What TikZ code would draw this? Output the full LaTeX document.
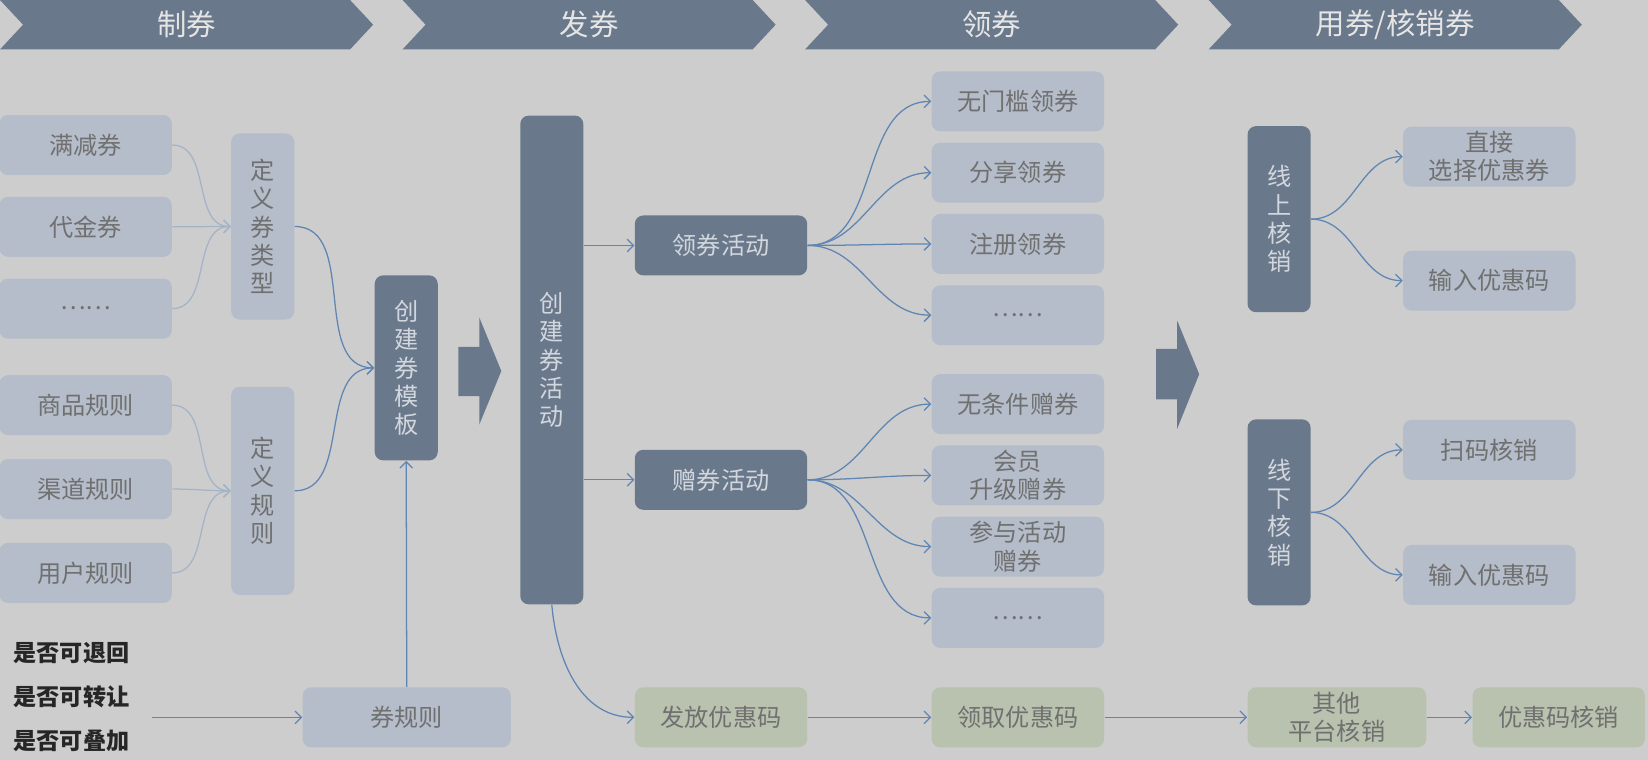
\documentclass[tikz,border=0pt]{standalone}
\usepackage{fontspec}
\setmainfont{Noto Sans CJK SC}
\usetikzlibrary{arrows.meta,positioning,shapes.symbols}

\definecolor{bgGrey}{HTML}{CDCDCD}
\definecolor{slate}{HTML}{6A788B}
\definecolor{paleBox}{HTML}{B4BDC9}
\definecolor{sage}{HTML}{B8C2AE}
\definecolor{flowBlue}{HTML}{5F86B3}
\definecolor{softBlue}{HTML}{A3B4C8}
\definecolor{paleText}{HTML}{D2D7DE}
\definecolor{greyText}{HTML}{707070}

\begin{document}
\begin{tikzpicture}[
    x=0.5pt, y=-0.5pt,
    every node/.style={font=\fontsize{11.5}{13.5}\selectfont},
    stage/.style={signal, signal to=east, signal from=west, signal pointer angle=94, fill=slate, text=white!90!black, minimum width=177.5pt, minimum height=23.5pt, inner sep=0pt, font=\fontsize{14}{16}\selectfont},
    item/.style={rounded corners=4pt, fill=paleBox, text=greyText, align=center, minimum width=82pt, minimum height=28.5pt, inner sep=0pt},
    code/.style={item, fill=sage},
    dark/.style={item, fill=slate, text=paleText},
    tall/.style={item, minimum width=30pt},
    talldark/.style={dark, minimum width=30pt},
    flow/.style={-{Straight Barb[length=3pt, width=6pt]}, line width=0.6pt, draw=flowBlue},
    thinflow/.style={flow, draw=softBlue}
]
\useasboundingbox (0,0) rectangle (1568,723);
\fill[bgGrey] (0,0) rectangle (1568,723);

% stages
\node[stage] (make) at (177.5,23.5) {制券};
\node[stage] (issue) at (560.5,23.5) {发券};
\node[stage] (claim) at (943.5,23.5) {领券};
\node[stage] (redeem) at (1327.5,23.5) {用券/核销券};

% making coupons
\node[item] (fullcut) at (81.5,138) {满减券};
\node[item, below=10pt of fullcut] (cash) {代金券};
\node[item, below=10pt of cash] (moretype) {……};
\node[item] (goods) at (81.5,385.5) {商品规则};
\node[item, below=11pt of goods] (channel) {渠道规则};
\node[item, below=11pt of channel] (user) {用户规则};
\node[tall, minimum height=88.5pt] (typedef) at (250,215.5) {定\\义\\券\\类\\型};
\node[tall, minimum height=99pt] (ruledef) at (250,467) {定\\义\\规\\则};
\node[talldark, minimum height=88pt] (template) at (386.5,350) {创\\建\\券\\模\\板};
\node[item, minimum width=99pt] (rules) at (387,682.5) {券规则};
\node[align=left, anchor=west, text=black!85, font=\bfseries\fontsize{11}{21}\selectfont] (opts) at (6,663) {是否可退回\\是否可转让\\是否可叠加};
\coordinate (optsout) at (145,682.5);

% issuing
\node[talldark, minimum height=232.5pt] (activity) at (525,342.5) {创\\建\\券\\活\\动};
\node[dark] (claimact) at (686,233.5) {领券活动};
\node[dark] (giftact) at (686,456.5) {赠券活动};
\node[code] (sendcode) at (686,682.5) {发放优惠码};

% claiming
\node[item] (free) at (968.5,96.5) {无门槛领券};
\node[item, below=5pt of free] (share) {分享领券};
\node[item, below=5pt of share] (register) {注册领券};
\node[item, below=5pt of register] (moreclaim) {……};
\node[item] (uncond) at (968.5,384.5) {无条件赠券};
\node[item, below=5pt of uncond] (member) {会员\\升级赠券};
\node[item, below=5pt of member] (join) {参与活动\\赠券};
\node[item, below=5pt of join] (moregift) {……};
\node[code] (getcode) at (968.5,682.5) {领取优惠码};

% redeeming
\node[talldark, minimum height=88.5pt] (online) at (1217,208.5) {线\\上\\核\\销};
\node[talldark, minimum height=88.5pt] (offline) at (1217,487.5) {线\\下\\核\\销};
\node[item] (direct) at (1417,149) {直接\\选择优惠券};
\node[item] (onlinecode) at (1417,267) {输入优惠码};
\node[item] (scan) at (1417,428) {扫码核销};
\node[item] (offlinecode) at (1417,547) {输入优惠码};
\node[code, minimum width=85pt] (other) at (1272,682.5) {其他\\平台核销};
\node[code] (codecheck) at (1483,682.5) {优惠码核销};

% block arrows
\fill[slate] (436,330) -- (456,330) -- (456,302) -- (477,353) -- (456,404) -- (456,377) -- (436,377) -- cycle;
\fill[slate] (1100,332) -- (1120,332) -- (1120,305) -- (1141,356) -- (1120,408) -- (1120,380) -- (1100,380) -- cycle;

\draw[thinflow] (fullcut.east) to[out=0,in=180] (typedef.west);
\draw[thinflow] (cash.east) to[out=0,in=180] (typedef.west);
\draw[thinflow] (moretype.east) to[out=0,in=180] (typedef.west);
\draw[thinflow] (goods.east) to[out=0,in=180] (ruledef.west);
\draw[thinflow] (channel.east) to[out=0,in=180] (ruledef.west);
\draw[thinflow] (user.east) to[out=0,in=180] (ruledef.west);
\draw[flow] (typedef.east) to[out=0,in=180] (template.west);
\draw[flow] (ruledef.east) to[out=0,in=180] (template.west);
\draw[flow] (optsout) -- (rules.west);
\draw[flow] (rules.north) -- (template.south);

\draw[flow] (activity.east |- claimact) -- (claimact.west);
\draw[flow] (activity.east |- giftact) -- (giftact.west);
\draw[flow] (activity.south) to[out=-85,in=180] (sendcode.west);
\draw[flow] (claimact.east) to[out=0,in=180] (free.west);
\draw[flow] (claimact.east) to[out=0,in=180] (share.west);
\draw[flow] (claimact.east) to[out=0,in=180] (register.west);
\draw[flow] (claimact.east) to[out=0,in=180] (moreclaim.west);
\draw[flow] (giftact.east) to[out=0,in=180] (uncond.west);
\draw[flow] (giftact.east) to[out=0,in=180] (member.west);
\draw[flow] (giftact.east) to[out=0,in=180] (join.west);
\draw[flow] (giftact.east) to[out=0,in=180] (moregift.west);
\draw[flow] (sendcode) -- (getcode);

\draw[flow] (online.east) to[out=0,in=180] (direct.west);
\draw[flow] (online.east) to[out=0,in=180] (onlinecode.west);
\draw[flow] (offline.east) to[out=0,in=180] (scan.west);
\draw[flow] (offline.east) to[out=0,in=180] (offlinecode.west);
\draw[flow] (getcode) -- (other);
\draw[flow] (other) -- (codecheck);
\end{tikzpicture}
\end{document}
